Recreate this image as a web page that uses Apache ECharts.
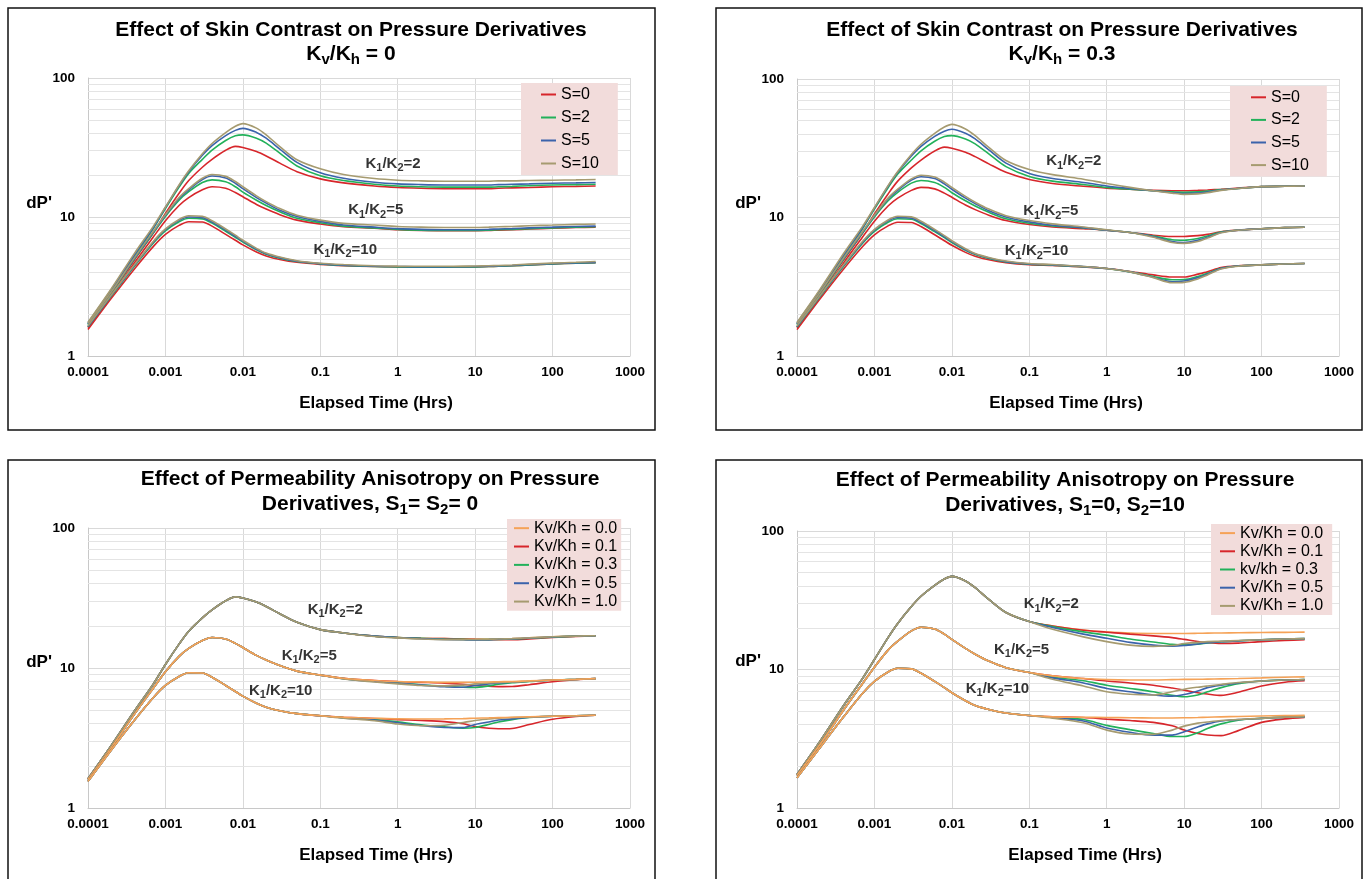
<!DOCTYPE html>
<html><head><meta charset="utf-8"><title>Pressure Derivatives</title>
<script src="https://cdn.jsdelivr.net/npm/echarts@6/dist/echarts.min.js"></script>
<style>html,body{margin:0;padding:0;background:#fff}#chart{width:1371px;height:879px}</style>
</head><body><div id="chart"></div><script>
// ---------- DATA ----------
const time = [0.0001,0.0002,0.0004,0.0007,0.001,0.0015,0.002,0.003,0.004,0.006,0.008,0.01,0.015,0.02,0.03,0.05,0.1,0.2,0.5,1,2,4,7,10,15,20,30,50,100,200,360];
const xTickLabels = ['0.0001','0.001','0.01','0.1','1','10','100','1000'];
const yTickLabels = ['1','10','100'];
const minorGridValues = [2,3,4,5,6,7,8,9,20,30,40,50,60,70,80,90];
const skinNames = ['S=0','S=2','S=5','S=10'];
const anisoNames3 = ['Kv/Kh = 0.0','Kv/Kh = 0.1','Kv/Kh = 0.3','Kv/Kh = 0.5','Kv/Kh = 1.0'];
const anisoNames4 = ['Kv/Kh = 0.0','Kv/Kh = 0.1','kv/kh = 0.3','Kv/Kh = 0.5','Kv/Kh = 1.0'];
const ratioLabels = ['2','5','10'];

// Panel 1: Kv/Kh = 0
const p1K2S0  = [1.62,2.8,4.95,7.7,10.6,14.8,18.3,22.8,26.0,30.2,32.2,31.6,29.6,27.5,24.4,21.2,18.8,17.6,16.7,16.3,16.1,16.0,16.0,16.0,16.0,16.1,16.2,16.3,16.5,16.6,16.7];
const p1K2S2  = [1.7,2.95,5.25,8.3,11.5,16.4,20.6,26.0,30.3,35.5,38.4,39.0,36.9,34.0,28.8,23.3,19.8,18.3,17.2,16.7,16.5,16.4,16.4,16.4,16.4,16.5,16.6,16.8,17.0,17.1,17.2];
const p1K2S5  = [1.73,3.0,5.35,8.4,11.7,16.8,21.2,27.8,32.6,38.5,42.0,43.4,40.6,36.9,30.8,24.7,20.8,19.0,17.8,17.3,17.1,17.0,17.0,17.0,17.0,17.1,17.2,17.3,17.5,17.6,17.7];
const p1K2S10 = [1.75,3.05,5.5,8.6,11.8,17.0,21.5,28.5,33.8,40.5,45.0,47.0,43.6,39.0,32.1,25.8,22.2,20.2,18.9,18.4,18.2,18.1,18.1,18.1,18.1,18.2,18.2,18.3,18.4,18.5,18.6];
const p1K5S0  = [1.6,2.7,4.7,7.2,9.4,12.1,13.8,15.7,16.5,16.1,15.0,14.0,12.3,11.4,10.4,9.5,8.9,8.5,8.3,8.1,8.0,7.98,7.98,7.98,8.0,8.05,8.1,8.2,8.3,8.4,8.45];
const p1K5S2  = [1.68,2.85,5.0,7.7,10.1,13.2,15.2,17.7,18.5,17.9,16.5,15.1,13.2,12.1,10.9,9.8,9.1,8.6,8.35,8.15,8.05,8.0,8.0,8.0,8.05,8.1,8.15,8.25,8.35,8.45,8.5];
const p1K5S5  = [1.7,2.88,5.05,7.8,10.3,13.6,15.7,18.6,19.7,19.1,17.5,16.0,13.8,12.6,11.2,10.1,9.3,8.75,8.45,8.25,8.15,8.1,8.1,8.1,8.15,8.2,8.25,8.35,8.45,8.55,8.6];
const p1K5S10 = [1.72,2.9,5.1,7.9,10.4,13.8,16.0,19.0,20.2,19.6,18.0,16.5,14.2,12.9,11.5,10.3,9.5,9.0,8.75,8.55,8.45,8.4,8.4,8.4,8.45,8.5,8.55,8.65,8.75,8.85,8.9];
const p1K10S0  = [1.55,2.6,4.25,6.15,7.5,8.7,9.25,9.2,8.6,7.5,6.8,6.3,5.6,5.25,4.95,4.72,4.56,4.47,4.4,4.37,4.36,4.36,4.37,4.38,4.4,4.42,4.46,4.52,4.6,4.65,4.69];
const p1K10S2  = [1.62,2.7,4.45,6.5,7.95,9.25,9.8,9.7,9.05,7.9,7.15,6.6,5.8,5.4,5.05,4.78,4.6,4.48,4.4,4.38,4.36,4.36,4.37,4.38,4.4,4.42,4.46,4.52,4.6,4.65,4.69];
const p1K10S5  = [1.63,2.72,4.5,6.6,8.1,9.45,10.0,9.9,9.2,8.05,7.25,6.7,5.85,5.45,5.1,4.8,4.62,4.5,4.42,4.4,4.38,4.38,4.39,4.4,4.42,4.44,4.48,4.54,4.62,4.67,4.71];
const p1K10S10 = [1.65,2.75,4.55,6.7,8.2,9.6,10.2,10.1,9.4,8.2,7.4,6.8,5.95,5.5,5.15,4.85,4.65,4.55,4.46,4.43,4.42,4.42,4.43,4.44,4.46,4.48,4.52,4.58,4.66,4.72,4.78];

// Panel 2: Kv/Kh = 0.3
const p2K2S0  = [1.62,2.8,4.95,7.7,10.6,14.8,18.3,22.8,26.0,30.2,32.2,31.6,29.6,27.5,24.4,21.2,18.8,17.6,16.8,16.3,16.0,15.7,15.6,15.6,15.7,15.8,16.0,16.3,16.7,16.8,16.9];
const p2K2S2  = [1.7,2.95,5.25,8.3,11.5,16.4,20.6,26.0,30.3,35.5,38.4,39.0,36.9,34.0,28.8,23.3,19.8,18.3,17.3,16.5,16.0,15.6,15.3,15.2,15.3,15.5,15.9,16.2,16.7,16.8,16.9];
const p2K2S5  = [1.73,3.0,5.35,8.4,11.7,16.8,21.2,27.8,32.6,38.5,42.0,43.4,40.6,36.9,30.8,24.7,20.8,19.1,17.9,16.9,16.2,15.6,15.1,14.9,15.0,15.3,15.8,16.2,16.7,16.8,16.9];
const p2K2S10 = [1.75,3.05,5.5,8.6,11.8,17.0,21.5,28.5,33.8,40.5,45.0,47.0,43.6,39.0,32.1,25.8,22.2,20.4,18.9,17.6,16.5,15.6,15.0,14.7,14.8,15.1,15.7,16.2,16.7,16.8,16.9];
const p2K5S0  = [1.6,2.7,4.7,7.2,9.4,12.1,13.8,15.7,16.5,16.1,15.0,14.0,12.3,11.4,10.4,9.5,8.9,8.55,8.3,8.1,7.8,7.45,7.3,7.3,7.4,7.55,7.9,8.1,8.3,8.45,8.5];
const p2K5S2  = [1.68,2.85,5.0,7.7,10.1,13.2,15.2,17.7,18.5,17.9,16.5,15.1,13.2,12.1,10.9,9.8,9.1,8.7,8.4,8.1,7.8,7.35,6.9,6.85,7.05,7.35,7.85,8.1,8.3,8.45,8.5];
const p2K5S5  = [1.7,2.88,5.05,7.8,10.3,13.6,15.7,18.6,19.7,19.1,17.5,16.0,13.8,12.6,11.2,10.1,9.3,8.8,8.45,8.1,7.8,7.3,6.7,6.6,6.85,7.2,7.8,8.1,8.3,8.45,8.5];
const p2K5S10 = [1.72,2.9,5.1,7.9,10.4,13.8,16.0,19.0,20.2,19.6,18.0,16.5,14.2,12.9,11.5,10.3,9.5,9.0,8.55,8.15,7.8,7.2,6.6,6.5,6.7,7.1,7.75,8.1,8.3,8.45,8.5];
const p2K10S0  = [1.55,2.6,4.25,6.15,7.5,8.7,9.25,9.2,8.6,7.5,6.8,6.3,5.6,5.25,4.95,4.72,4.56,4.5,4.4,4.28,4.08,3.85,3.72,3.72,3.9,4.05,4.35,4.48,4.55,4.62,4.65];
const p2K10S2  = [1.62,2.7,4.45,6.5,7.95,9.25,9.8,9.7,9.05,7.9,7.15,6.6,5.8,5.4,5.05,4.78,4.6,4.53,4.41,4.28,4.05,3.75,3.55,3.56,3.75,3.95,4.3,4.47,4.55,4.62,4.65];
const p2K10S5  = [1.63,2.72,4.5,6.6,8.1,9.45,10.0,9.9,9.2,8.05,7.25,6.7,5.85,5.45,5.1,4.8,4.62,4.55,4.42,4.28,4.05,3.7,3.44,3.48,3.68,3.9,4.28,4.46,4.55,4.62,4.65];
const p2K10S10 = [1.65,2.75,4.55,6.7,8.2,9.6,10.2,10.1,9.4,8.2,7.4,6.8,5.95,5.5,5.15,4.85,4.65,4.58,4.43,4.28,4.05,3.68,3.38,3.4,3.6,3.85,4.25,4.45,4.55,4.62,4.65];

// Panel 3: S1 = S2 = 0 (Kv/Kh 0.0, 0.1, 0.3, 0.5, 1.0)
const p3K2A0  = [1.62,2.8,4.95,7.7,10.6,14.8,18.3,22.8,26.0,30.2,32.2,31.6,29.6,27.5,24.4,21.2,18.8,17.8,16.9,16.5,16.3,16.2,16.1,16.1,16.1,16.1,16.2,16.4,16.7,16.9,17.0];
const p3K2A1  = [1.62,2.8,4.95,7.7,10.6,14.8,18.3,22.8,26.0,30.2,32.2,31.6,29.6,27.5,24.4,21.2,18.8,17.8,16.9,16.5,16.3,16.2,16.1,16.0,15.9,15.9,15.9,16.1,16.5,16.8,17.0];
const p3K2A3  = [1.62,2.8,4.95,7.7,10.6,14.8,18.3,22.8,26.0,30.2,32.2,31.6,29.6,27.5,24.4,21.2,18.8,17.8,16.9,16.5,16.3,16.1,16.0,15.9,15.95,16.0,16.1,16.3,16.6,16.9,17.0];
const p3K2A5  = [1.62,2.8,4.95,7.7,10.6,14.8,18.3,22.8,26.0,30.2,32.2,31.6,29.6,27.5,24.4,21.2,18.8,17.8,16.9,16.5,16.2,16.0,15.9,15.85,15.95,16.05,16.15,16.35,16.65,16.9,17.0];
const p3K2A10 = [1.62,2.8,4.95,7.7,10.6,14.8,18.3,22.8,26.0,30.2,32.2,31.6,29.6,27.5,24.4,21.2,18.8,17.8,16.8,16.4,16.1,15.95,15.95,16.0,16.05,16.1,16.2,16.4,16.7,16.9,17.0];
const p3K5A0  = [1.6,2.7,4.7,7.2,9.4,12.1,13.8,15.7,16.5,16.1,15.0,14.0,12.3,11.4,10.4,9.5,8.9,8.45,8.15,8.0,7.95,7.9,7.9,7.92,7.95,7.98,8.0,8.1,8.2,8.3,8.4];
const p3K5A1  = [1.6,2.7,4.7,7.2,9.4,12.1,13.8,15.7,16.5,16.1,15.0,14.0,12.3,11.4,10.4,9.5,8.9,8.45,8.15,8.0,7.9,7.8,7.65,7.5,7.4,7.36,7.38,7.6,7.98,8.25,8.4];
const p3K5A3  = [1.6,2.7,4.7,7.2,9.4,12.1,13.8,15.7,16.5,16.1,15.0,14.0,12.3,11.4,10.4,9.5,8.9,8.4,8.05,7.85,7.6,7.42,7.28,7.25,7.45,7.65,7.85,8.0,8.2,8.3,8.4];
const p3K5A5  = [1.6,2.7,4.7,7.2,9.4,12.1,13.8,15.7,16.5,16.1,15.0,14.0,12.3,11.4,10.4,9.5,8.9,8.4,8.0,7.8,7.55,7.35,7.28,7.5,7.7,7.82,7.92,8.05,8.2,8.3,8.4];
const p3K5A10 = [1.6,2.7,4.7,7.2,9.4,12.1,13.8,15.7,16.5,16.1,15.0,14.0,12.3,11.4,10.4,9.5,8.9,8.35,7.95,7.7,7.5,7.45,7.55,7.7,7.82,7.88,7.95,8.05,8.2,8.3,8.4];
const p3K10A0  = [1.55,2.6,4.25,6.15,7.5,8.7,9.25,9.2,8.6,7.5,6.8,6.3,5.6,5.25,4.95,4.72,4.56,4.45,4.38,4.33,4.32,4.33,4.35,4.38,4.4,4.42,4.45,4.48,4.52,4.56,4.6];
const p3K10A1  = [1.55,2.6,4.25,6.15,7.5,8.7,9.25,9.2,8.6,7.5,6.8,6.3,5.6,5.25,4.95,4.72,4.56,4.45,4.36,4.28,4.22,4.14,4.0,3.82,3.71,3.68,3.7,3.95,4.3,4.5,4.6];
const p3K10A3  = [1.55,2.6,4.25,6.15,7.5,8.7,9.25,9.2,8.6,7.5,6.8,6.3,5.6,5.25,4.95,4.72,4.56,4.42,4.28,4.12,3.93,3.8,3.72,3.76,3.95,4.12,4.28,4.43,4.52,4.56,4.6];
const p3K10A5  = [1.55,2.6,4.25,6.15,7.5,8.7,9.25,9.2,8.6,7.5,6.8,6.3,5.6,5.25,4.95,4.72,4.56,4.4,4.25,4.06,3.88,3.76,3.75,3.95,4.12,4.25,4.33,4.45,4.52,4.56,4.6];
const p3K10A10 = [1.55,2.6,4.25,6.15,7.5,8.7,9.25,9.2,8.6,7.5,6.8,6.3,5.6,5.25,4.95,4.72,4.56,4.38,4.2,3.98,3.87,3.9,4.08,4.22,4.32,4.38,4.42,4.47,4.52,4.56,4.6];

// Panel 4: S1 = 0, S2 = 10 (Kv/Kh 0.0, 0.1, 0.3, 0.5, 1.0)
const p4K2A0  = [1.75,3.05,5.5,8.6,11.8,17.0,21.5,28.5,33.8,40.5,45.0,47.0,43.6,39.0,32.1,25.8,22.2,20.6,19.3,18.7,18.3,18.2,18.2,18.2,18.25,18.3,18.35,18.4,18.5,18.55,18.6];
const p4K2A1  = [1.75,3.05,5.5,8.6,11.8,17.0,21.5,28.5,33.8,40.5,45.0,47.0,43.6,39.0,32.1,25.8,22.2,20.6,19.2,18.6,18.0,17.5,17.0,16.5,15.9,15.6,15.4,15.5,15.9,16.2,16.4];
const p4K2A3  = [1.75,3.05,5.5,8.6,11.8,17.0,21.5,28.5,33.8,40.5,45.0,47.0,43.6,39.0,32.1,25.8,22.2,20.4,18.7,17.7,16.6,15.8,15.2,15.05,15.25,15.55,15.9,16.1,16.4,16.6,16.7];
const p4K2A5  = [1.75,3.05,5.5,8.6,11.8,17.0,21.5,28.5,33.8,40.5,45.0,47.0,43.6,39.0,32.1,25.8,22.2,20.1,18.0,16.8,15.7,15.0,14.75,14.9,15.3,15.6,15.9,16.1,16.4,16.6,16.7];
const p4K2A10 = [1.75,3.05,5.5,8.6,11.8,17.0,21.5,28.5,33.8,40.5,45.0,47.0,43.6,39.0,32.1,25.8,22.2,19.5,17.2,15.9,15.0,14.7,14.9,15.4,15.7,15.9,16.0,16.2,16.4,16.6,16.7];
const p4K5A0  = [1.72,2.9,5.1,7.9,10.4,13.8,16.0,19.0,20.2,19.6,18.0,16.5,14.2,12.9,11.5,10.3,9.5,9.0,8.6,8.45,8.4,8.4,8.45,8.48,8.5,8.52,8.55,8.6,8.7,8.8,8.85];
const p4K5A1  = [1.72,2.9,5.1,7.9,10.4,13.8,16.0,19.0,20.2,19.6,18.0,16.5,14.2,12.9,11.5,10.3,9.5,9.0,8.6,8.25,8.0,7.7,7.35,7.1,6.8,6.65,6.5,6.85,7.6,8.1,8.3];
const p4K5A3  = [1.72,2.9,5.1,7.9,10.4,13.8,16.0,19.0,20.2,19.6,18.0,16.5,14.2,12.9,11.5,10.3,9.5,8.8,8.3,7.7,7.3,6.9,6.5,6.36,6.55,6.9,7.4,7.9,8.25,8.4,8.47];
const p4K5A5  = [1.72,2.9,5.1,7.9,10.4,13.8,16.0,19.0,20.2,19.6,18.0,16.5,14.2,12.9,11.5,10.3,9.5,8.7,8.0,7.3,6.9,6.55,6.42,6.6,7.0,7.4,7.7,8.0,8.25,8.4,8.47];
const p4K5A10 = [1.72,2.9,5.1,7.9,10.4,13.8,16.0,19.0,20.2,19.6,18.0,16.5,14.2,12.9,11.5,10.3,9.5,8.5,7.6,6.9,6.62,6.55,6.9,7.2,7.45,7.6,7.8,8.05,8.25,8.4,8.47];
const p4K10A0  = [1.65,2.75,4.55,6.7,8.2,9.6,10.2,10.1,9.4,8.2,7.4,6.8,5.95,5.5,5.15,4.85,4.65,4.55,4.52,4.5,4.48,4.47,4.47,4.48,4.5,4.52,4.55,4.58,4.62,4.65,4.67];
const p4K10A1  = [1.65,2.75,4.55,6.7,8.2,9.6,10.2,10.1,9.4,8.2,7.4,6.8,5.95,5.5,5.15,4.85,4.65,4.55,4.5,4.38,4.28,4.15,3.92,3.66,3.45,3.37,3.33,3.62,4.15,4.4,4.51];
const p4K10A3  = [1.65,2.75,4.55,6.7,8.2,9.6,10.2,10.1,9.4,8.2,7.4,6.8,5.95,5.5,5.15,4.85,4.65,4.52,4.35,3.95,3.68,3.45,3.28,3.28,3.5,3.75,4.05,4.3,4.44,4.53,4.57];
const p4K10A5  = [1.65,2.75,4.55,6.7,8.2,9.6,10.2,10.1,9.4,8.2,7.4,6.8,5.95,5.5,5.15,4.85,4.65,4.5,4.25,3.78,3.52,3.36,3.36,3.55,3.85,4.05,4.25,4.35,4.44,4.53,4.57];
const p4K10A10 = [1.65,2.75,4.55,6.7,8.2,9.6,10.2,10.1,9.4,8.2,7.4,6.8,5.95,5.5,5.15,4.85,4.65,4.45,4.12,3.65,3.42,3.4,3.65,3.9,4.1,4.18,4.28,4.36,4.44,4.53,4.57];

// K1/K2 annotation anchors (time, dP') per panel
const p1LabelT = [0.87, 0.52, 0.21], p1LabelV = [24.3, 11.2, 5.83];
const p2LabelT = [0.375, 0.19, 0.124], p2LabelV = [25.5, 11.1, 5.71];
const p3LabelT = [0.156, 0.072, 0.0308], p3LabelV = [26.1, 12.2, 6.86];
const p4LabelT = [0.192, 0.0794, 0.0388], p4LabelV = [29.7, 13.9, 7.28];

// ---------- STYLE / LAYOUT ----------
const FONT = '"Liberation Sans", Arial, Helvetica, sans-serif';
const skinColors = ['#D7262B', '#22B15A', '#3B63AB', '#A69B70'];
const anisoColors = ['#F5A257', '#D7262B', '#22B15A', '#3B63AB', '#A69B70'];
const grids = [
  { left: 88, top: 78, width: 542, height: 278 },
  { left: 797, top: 79, width: 542, height: 277 },
  { left: 88, top: 528, width: 542, height: 280 },
  { left: 797, top: 531, width: 542, height: 277 }
];
const xNamePad = [[0,0,0,34],[0,4,0,0],[0,0,0,34],[0,0,0,34]];
const yNameLineHeight = [28, 29, 12, 16];

function lineSeries(name, color, values, gi) {
  return {
    type: 'line', name: name, xAxisIndex: gi, yAxisIndex: gi,
    data: time.map((t, i) => [t, values[i]]),
    smooth: 0.3, symbol: 'none', showSymbol: false, silent: true,
    lineStyle: { color: color, width: 1.6 }, itemStyle: { color: color },
    emphasis: { disabled: true }, z: 3
  };
}
function gridHelper(gi) {
  return {
    type: 'line', name: '_minor' + gi, xAxisIndex: gi, yAxisIndex: gi, data: [], z: 1, silent: true,
    markLine: {
      silent: true, z: 1, symbol: ['none', 'none'], label: { show: false }, animation: false,
      lineStyle: { color: '#e4e4e4', width: 1, type: 'solid' }, emphasis: { disabled: true },
      data: minorGridValues.map(v => ({ yAxis: v }))
    }
  };
}
const labelRich = {
  m: { fontSize: 15, fontWeight: 'bold', color: '#000', fontFamily: FONT, lineHeight: 20 },
  s: { fontSize: 11, fontWeight: 'bold', color: '#000', fontFamily: FONT, lineHeight: 11, padding: [9, 0, 0, 0] }
};
function labelSeries(ts, vs, gi) {
  return {
    type: 'scatter', xAxisIndex: gi, yAxisIndex: gi, symbolSize: 0, silent: true, z: 5,
    data: ts.map((t, i) => [t, vs[i]]),
    label: {
      show: true, position: 'inside',
      formatter: p => '{m|K}{s|1}{m|/K}{s|2}{m|=' + ratioLabels[p.dataIndex] + '}',
      rich: labelRich
    }
  };
}

const series = [];
[0,1,2,3].forEach(g => series.push(gridHelper(g)));
[[p1K2S0,p1K2S2,p1K2S5,p1K2S10],[p1K5S0,p1K5S2,p1K5S5,p1K5S10],[p1K10S0,p1K10S2,p1K10S5,p1K10S10]]
  .forEach(grp => grp.forEach((vals, j) => series.push(lineSeries(skinNames[j], skinColors[j], vals, 0))));
[[p2K2S0,p2K2S2,p2K2S5,p2K2S10],[p2K5S0,p2K5S2,p2K5S5,p2K5S10],[p2K10S0,p2K10S2,p2K10S5,p2K10S10]]
  .forEach(grp => grp.forEach((vals, j) => series.push(lineSeries(skinNames[j], skinColors[j], vals, 1))));
function addAniso(groups, names, gi) {
  groups.forEach((grp, k) => {
    const order = k === 0 ? [0,1,2,3,4] : [1,2,3,4,0];
    order.forEach(j => series.push(lineSeries(names[j], anisoColors[j], grp[j], gi)));
  });
}
addAniso([[p3K2A0,p3K2A1,p3K2A3,p3K2A5,p3K2A10],[p3K5A0,p3K5A1,p3K5A3,p3K5A5,p3K5A10],[p3K10A0,p3K10A1,p3K10A3,p3K10A5,p3K10A10]], anisoNames3, 2);
addAniso([[p4K2A0,p4K2A1,p4K2A3,p4K2A5,p4K2A10],[p4K5A0,p4K5A1,p4K5A3,p4K5A5,p4K5A10],[p4K10A0,p4K10A1,p4K10A3,p4K10A5,p4K10A10]], anisoNames4, 3);
series.push(labelSeries(p1LabelT, p1LabelV, 0));
series.push(labelSeries(p2LabelT, p2LabelV, 1));
series.push(labelSeries(p3LabelT, p3LabelV, 2));
series.push(labelSeries(p4LabelT, p4LabelV, 3));

const xAxes = grids.map((g, i) => ({
  type: 'log', logBase: 10, gridIndex: i, min: 0.0001, max: 1000, splitNumber: 7,
  axisLine: { show: true, lineStyle: { color: '#c8c8c8', width: 1 } },
  axisTick: { show: false },
  splitLine: { show: true, lineStyle: { color: '#d9d9d9', width: 1 } },
  axisLabel: {
    margin: 9, color: '#000', fontSize: 13.5, fontWeight: 'bold', fontFamily: FONT,
    formatter: v => xTickLabels[Math.round(Math.log10(v)) + 4]
  },
  name: 'Elapsed Time (Hrs)', nameLocation: 'middle', nameGap: 39, nameMoveOverlap: false,
  nameTextStyle: { color: '#000', fontSize: 17, fontWeight: 'bold', fontFamily: FONT, padding: xNamePad[i] }
}));
const yAxes = grids.map((g, i) => ({
  type: 'log', logBase: 10, gridIndex: i, min: 1, max: 100,
  axisLine: { show: true, lineStyle: { color: '#c8c8c8', width: 1 } },
  axisTick: { show: false },
  splitLine: { show: true, lineStyle: { color: '#d9d9d9', width: 1 } },
  axisLabel: {
    margin: 13, color: '#000', fontSize: 13.5, fontWeight: 'bold', fontFamily: FONT,
    formatter: v => yTickLabels[Math.round(Math.log10(v))]
  },
  name: "dP'", nameLocation: 'middle', nameGap: 36, nameRotate: 0, nameMoveOverlap: false,
  nameTextStyle: { color: '#000', fontSize: 17, fontWeight: 'bold', fontFamily: FONT,
    verticalAlign: 'bottom', lineHeight: yNameLineHeight[i] }
}));

function legendFor(names, left, top, pad, lh) {
  return {
    data: names, left: left, top: top, orient: 'vertical', backgroundColor: '#F2DCDB', selectedMode: false,
    icon: 'rect', itemWidth: 15, itemHeight: 2, itemGap: 0, padding: pad,
    textStyle: { color: '#000', fontSize: 16, fontFamily: FONT, lineHeight: lh }
  };
}
const legends = [
  legendFor(skinNames, 521, 83, [0, 19, 0, 20], 23),
  legendFor(skinNames, 1230, 86, [0, 18, 0, 21], 22.6),
  legendFor(anisoNames3, 507, 519, [0, 4, 0, 7], 18.35),
  legendFor(anisoNames4, 1211, 524, [0, 9, 0, 9], 18.2)
];

const titleRich = {
  m: { fontSize: 21, fontWeight: 'bold', fontFamily: FONT, lineHeight: 26, fill: '#000' },
  s: { fontSize: 15, fontWeight: 'bold', fontFamily: FONT, lineHeight: 15, padding: [11, 0, 0, 0], fill: '#000' }
};
function titleText(x, y, text) {
  return { type: 'text', x: x, y: y, silent: true,
    style: { text: text, align: 'center', verticalAlign: 'middle', fill: '#000', font: 'bold 21px ' + FONT, rich: titleRich } };
}
function panelRect(x, y, w, h) {
  return { type: 'rect', silent: true, shape: { x: x, y: y, width: w, height: h },
    style: { fill: 'none', stroke: '#111', lineWidth: 1.5 } };
}
const graphics = [
  panelRect(8, 8, 647, 422), panelRect(716, 8, 646, 422),
  panelRect(8, 460, 647, 430), panelRect(716, 460, 646, 430),
  titleText(351, 30, '{m|Effect of Skin Contrast on Pressure Derivatives}'),
  titleText(351, 54, '{m|K}{s|v}{m|/K}{s|h}{m| = 0}'),
  titleText(1062, 30, '{m|Effect of Skin Contrast on Pressure Derivatives}'),
  titleText(1062, 54, '{m|K}{s|v}{m|/K}{s|h}{m| = 0.3}'),
  titleText(370, 479, '{m|Effect of Permeability Anisotropy on Pressure}'),
  titleText(370, 504, '{m|Derivatives, S}{s|1}{m|= S}{s|2}{m|= 0}'),
  titleText(1065, 480, '{m|Effect of Permeability Anisotropy on Pressure}'),
  titleText(1065, 505, '{m|Derivatives, S}{s|1}{m|=0, S}{s|2}{m|=10}')
];

const chart = echarts.init(document.getElementById('chart'), null, { renderer: 'canvas' });
chart.setOption({
  animation: false,
  backgroundColor: '#fff',
  grid: grids,
  xAxis: xAxes,
  yAxis: yAxes,
  legend: legends,
  series: series,
  graphic: graphics
});
</script></body></html>
